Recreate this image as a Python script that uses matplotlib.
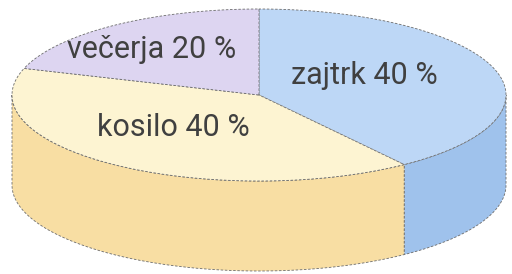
import numpy as np
import matplotlib.pyplot as plt
from matplotlib.patches import Polygon

# data
labels = ['zajtrk', 'kosilo', 'večerja']
shares = [40, 40, 20]
top_colors = ['#bdd7f6', '#fdf4d2', '#ddd5f1']
side_colors = ['#9fc2ec', '#f8dea3', '#d9cfee']

# geometry of the drawn disc, in pixels
cx, cy = 259, 95
a, b = 247, 86
h = 90
start = 90  # first slice begins at the top, goes clockwise

fig = plt.figure(figsize=(5.12, 2.74), dpi=100)
ax = fig.add_axes([0, 0, 1, 1])
ax.set_xlim(0, 512)
ax.set_ylim(274, 0)
ax.axis('off')


def pt(deg, dy=0):
    t = np.radians(deg)
    return cx + a * np.cos(t), cy - b * np.sin(t) + dy


edge = dict(edgecolor='#6d6d6d', linewidth=0.6, linestyle=(0, (3, 2)))

# slice angles
bounds = []
ang = start
for s in shares:
    bounds.append((ang - s * 3.6, ang))
    ang -= s * 3.6

# side faces (only the front half, -180..0)
for (t0, t1), col in zip(bounds, side_colors):
    for k in (-1, 0, 1):
        s0 = max(t0 + 360 * k, -180)
        s1 = min(t1 + 360 * k, 0)
        if s1 <= s0:
            continue
        th = np.linspace(s0, s1, 100)
        top = [pt(t) for t in th]
        bot = [pt(t, h) for t in th[::-1]]
        ax.add_patch(Polygon(top + bot, closed=True, facecolor=col, **edge))

# top faces
for (t0, t1), col in zip(bounds, top_colors):
    th = np.linspace(t0, t1, 100)
    poly = [(cx, cy)] + [pt(t) for t in th]
    ax.add_patch(Polygon(poly, closed=True, facecolor=col, **edge))

txt = dict(fontsize=22, color='#404040', family='Roboto', ha='center', va='center')
ax.text(152, 50, 'večerja 20 %', **txt)
ax.text(364, 76, 'zajtrk 40 %', **txt)
ax.text(173, 128, 'kosilo 40 %', **txt)

fig.savefig('out.png', dpi=100)
